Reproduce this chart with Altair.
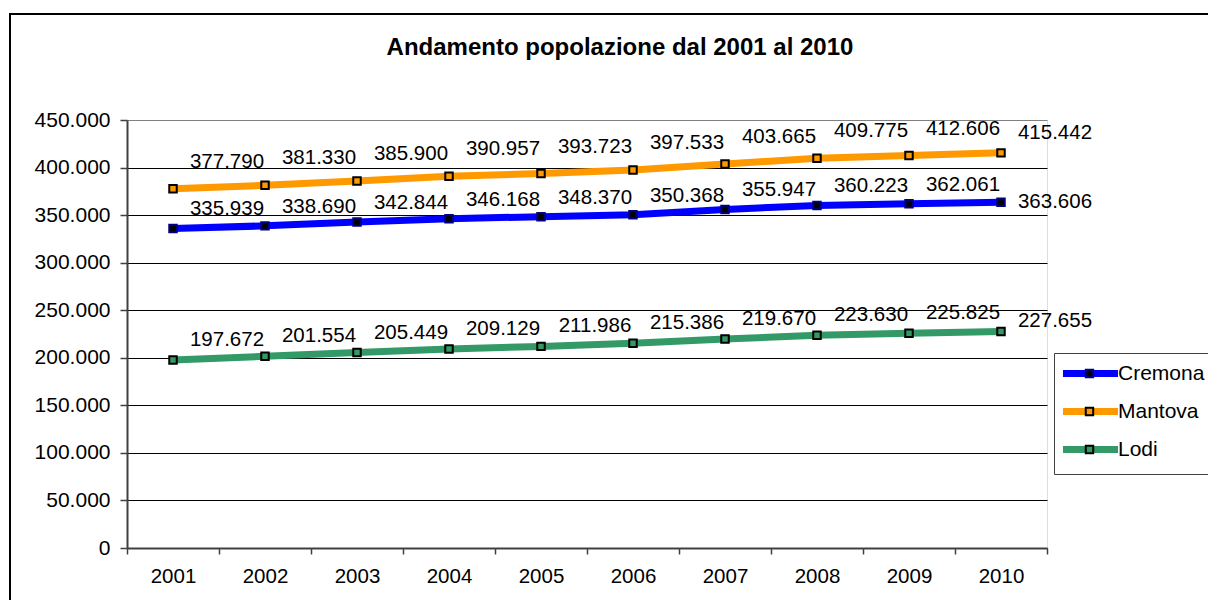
import altair as alt
import pandas as pd

years = ["2001", "2002", "2003", "2004", "2005", "2006", "2007", "2008", "2009", "2010"]
series_names = ["Cremona", "Mantova", "Lodi"]
cremona = [335939, 338690, 342844, 346168, 348370, 350368, 355947, 360223, 362061, 363606]
mantova = [377790, 381330, 385900, 390957, 393723, 397533, 403665, 409775, 412606, 415442]
lodi = [197672, 201554, 205449, 209129, 211986, 215386, 219670, 223630, 225825, 227655]
y_ticks = [0, 50000, 100000, 150000, 200000, 250000, 300000, 350000, 400000, 450000]

line_colors = ["#0000FF", "#FF9900", "#339966"]
marker_fills = ["#000000", "#FF9900", "#339966"]
marker_strokes = ["#000080", "#000000", "#000000"]

rows = []
for name, vals in zip(series_names, [cremona, mantova, lodi]):
    for yr, v in zip(years, vals):
        rows.append({"year": yr, "value": v, "series": name, "serie_m": name})
df = pd.DataFrame(rows)

FONT = "Liberation Sans"
FS = 20.5

x_enc = alt.X(
    "year:O",
    bandPosition=0.5,
    scale=alt.Scale(type="band", paddingInner=0, paddingOuter=0),
    axis=alt.Axis(
        title=None, labelAngle=0, tickBand="extent", grid=False,
        domainColor="#404040", domainWidth=2, tickColor="#404040", tickWidth=1.5,
        tickSize=6, labelPadding=12, labelFont=FONT, labelFontSize=FS, labelColor="black",
    ),
)
y_enc = alt.Y(
    "value:Q",
    scale=alt.Scale(domain=[0, 450000], nice=False, zero=True),
    axis=alt.Axis(
        title=None, values=y_ticks,
        labelExpr="replace(format(datum.value, ','), ',', '.')",
        domainColor="#404040", domainWidth=2, tickColor="#404040", tickWidth=1.5,
        tickSize=7, labelPadding=10, labelFont=FONT, labelFontSize=21, labelColor="black",
        grid=True, gridWidth=1,
        gridColor=alt.condition("datum.value == 450000", alt.value("#808080"), alt.value("#000000")),
    ),
)

base = alt.Chart(df)

LEG_X = 927
LEG_Y = 233
LEG_FS = 21
lines = base.mark_line(strokeWidth=7).encode(
    x=x_enc, y=y_enc,
    color=alt.Color(
        "series:N",
        scale=alt.Scale(domain=series_names, range=line_colors),
        legend=alt.Legend(
            title=None, orient="none", legendX=LEG_X, legendY=LEG_Y, values=series_names,
            symbolType="M-1.92,0H7.25", symbolSize=144, symbolStrokeWidth=7,
            labelFont=FONT, labelFontSize=LEG_FS, labelColor="black", labelOffset=33,
            rowPadding=9, padding=10, strokeColor="#404040", labelLimit=300,
        ),
    ),
    order="year:O",
)

points = base.mark_point(shape="square", filled=True, size=56, strokeWidth=2, opacity=1).encode(
    x=x_enc, y=y_enc,
    fill=alt.Fill(
        "serie_m:N",
        scale=alt.Scale(domain=series_names, range=marker_fills),
        legend=alt.Legend(
            title=None, orient="none", legendX=LEG_X + 2.5, legendY=LEG_Y, values=series_names,
            symbolType="M1.46,-0.62H2.7V0.62H1.46Z", symbolSize=144, symbolStrokeWidth=2,
            symbolStrokeColor="black", symbolOpacity=1,
            labelFont=FONT, labelFontSize=LEG_FS, labelColor="transparent", labelOffset=33,
            rowPadding=16, padding=10, labelLimit=300,
        ),
    ),
    stroke=alt.Stroke(
        "series:N",
        scale=alt.Scale(domain=series_names, range=marker_strokes),
        legend=None,
    ),
)

label_expr = "replace(format(datum.value, ','), ',', '.')"
label_offsets = {
    "Cremona": (54, -19, 54, 0),
    "Mantova": (54, -27, 54, -20),
    "Lodi": (54, -20, 54, -10),
}
label_layers = []
for name in series_names:
    dx1, dy1, dx2, dy2 = label_offsets[name]
    t = base.transform_filter(alt.datum.series == name).transform_calculate(lbl=label_expr)
    label_layers.append(
        t.transform_filter(alt.datum.year != "2010").mark_text(
            font=FONT, fontSize=FS, color="black", dx=dx1, dy=dy1, align="center", baseline="middle"
        ).encode(x=x_enc, y=y_enc, text="lbl:N")
    )
    label_layers.append(
        t.transform_filter(alt.datum.year == "2010").mark_text(
            font=FONT, fontSize=FS, color="black", dx=dx2, dy=dy2, align="center", baseline="middle"
        ).encode(x=x_enc, y=y_enc, text="lbl:N")
    )

frame = alt.Chart(pd.DataFrame({"f": [0]})).mark_rect(
    fill="transparent", stroke="black", strokeWidth=2, clip=False
).encode(x=alt.value(-117), y=alt.value(-106), x2=alt.value(1400), y2=alt.value(800))

chart = alt.layer(frame, lines, points, *label_layers).resolve_scale(
    color="independent", fill="independent", stroke="independent"
).properties(
    width=920,
    height=428,
    padding={"left": 119, "top": 112, "right": 161, "bottom": 52},
    autosize=alt.AutoSizeParams(type="none"),
    title=alt.TitleParams(
        "Andamento popolazione dal 2001 al 2010", font=FONT, fontSize=24, fontWeight="bold",
        color="black", anchor="middle", frame="group", baseline="middle", dx=33, offset=-59,
    ),
).configure_view(stroke="#808080", strokeWidth=2).configure(background="white")

chart.save("out.html", embed_options={"renderer": "svg", "actions": False})
